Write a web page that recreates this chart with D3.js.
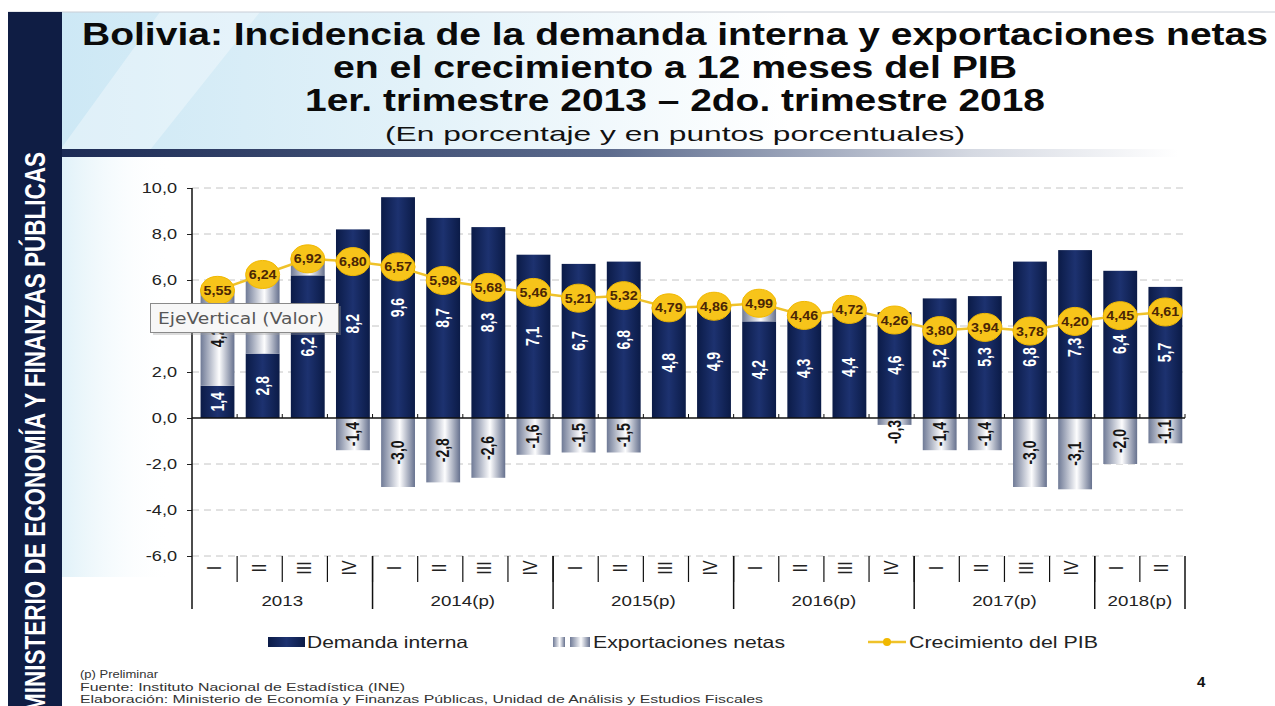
<!DOCTYPE html>
<html>
<head>
<meta charset="utf-8">
<script src="https://cdn.jsdelivr.net/npm/d3@7"></script>
<style>
  html, body { margin: 0; padding: 0; background: #ffffff; }
  svg { display: block; }
</style>
</head>
<body>
<svg id="chart" width="1275" height="706"></svg>
<script>
// ---------- DATA ----------
const quarters = ["I","II","III","IV","I","II","III","IV","I","II","III","IV","I","II","III","IV","I","II","III","IV","I","II"];
const years = ["2013","2014(p)","2015(p)","2016(p)","2017(p)","2018(p)"];
const yearQuarterCounts = [4,4,4,4,4,2];
const demandaInterna = [1.4,2.8,6.2,8.2,9.6,8.7,8.3,7.1,6.7,6.8,4.8,4.9,4.2,4.3,4.4,4.6,5.2,5.3,6.8,7.3,6.4,5.7];
const exportacionesNetas = [4.2,3.4,0.7,-1.4,-3.0,-2.8,-2.6,-1.6,-1.5,-1.5,0.0,0.0,0.8,0.2,0.3,-0.3,-1.4,-1.4,-3.0,-3.1,-2.0,-1.1];
const crecimientoPIB = [5.55,6.24,6.92,6.80,6.57,5.98,5.68,5.46,5.21,5.32,4.79,4.86,4.99,4.46,4.72,4.26,3.80,3.94,3.78,4.20,4.45,4.61];
const yTicks = [-6,-4,-2,0,2,4,6,8,10];
const titleLines = [
  "Bolivia: Incidencia de la demanda interna y exportaciones netas",
  "en el crecimiento a 12 meses del PIB",
  "1er. trimestre 2013 \u2013 2do. trimestre 2018"
];
const subtitle = "(En porcentaje y en puntos porcentuales)";
const legendLabels = ["Demanda interna","Exportaciones netas","Crecimiento del PIB"];
const footnotes = [
  "(p) Preliminar",
  "Fuente: Instituto Nacional de Estad\u00edstica (INE)",
  "Elaboraci\u00f3n: Ministerio de Econom\u00eda y Finanzas P\u00fablicas, Unidad de An\u00e1lisis y Estudios Fiscales"
];
const sideText = "MINISTERIO DE ECONOM\u00cdA Y FINANZAS P\u00daBLICAS";
const pageNumber = "4";

// ---------- SETUP ----------
const svg = d3.select("#chart");
const W = 1275, H = 706;
const SX = 1.25; // horizontal stretch of the reference picture
const loc = d3.formatLocale({decimal: ",", thousands: ".", grouping: [3], currency: ["", ""], minus: "-"});
const f1 = loc.format(".1f"), f2 = loc.format(".2f");
const tf = "'Liberation Sans', Arial, Helvetica, sans-serif";

const defs = svg.append("defs");
function grad(id, stops, x2 = "100%", y2 = "0%") {
  const g = defs.append("linearGradient").attr("id", id).attr("x1", "0%").attr("y1", "0%").attr("x2", x2).attr("y2", y2);
  stops.forEach(s => g.append("stop").attr("offset", s[0]).attr("stop-color", s[1]).attr("stop-opacity", s[2] === undefined ? 1 : s[2]));
}
grad("hdrGrad", [["0%", "#cde8f5"], ["30%", "#e3f2f9"], ["60%", "#ffffff"]]);
grad("ruleGrad", [["0%", "#1c2b55"], ["45%", "#5d6c8e"], ["75%", "#d5d9e2"], ["92%", "#ffffff"]]);
grad("sideGrad", [["0%", "#d9eef7"], ["100%", "#ffffff", 0]]);
grad("demGrad", [["0%", "#0b1b47"], ["50%", "#1d3270"], ["100%", "#0b1b47"]]);
grad("expGrad", [["0%", "#6f7a96"], ["55%", "#fdfdfe"], ["100%", "#66718e"]]);

// ---------- BACKGROUND / FRAME ----------
svg.append("rect").attr("x", 62).attr("y", 12).attr("width", W - 62).attr("height", 138).attr("fill", "url(#hdrGrad)");
svg.append("polygon").attr("points", "160,12 260,12 150,150 60,150").attr("fill", "#ffffff").attr("opacity", 0.35);
svg.append("rect").attr("x", 62).attr("y", 157).attr("width", 110).attr("height", 420).attr("fill", "url(#sideGrad)").attr("opacity", 0.8);
svg.append("line").attr("x1", 8).attr("x2", W).attr("y1", 12).attr("y2", 12).attr("stroke", "#c9ced6").attr("stroke-width", 1);
svg.append("rect").attr("x", 62).attr("y", 149).attr("width", W - 62).attr("height", 8).attr("fill", "url(#ruleGrad)");
svg.append("rect").attr("x", 8).attr("y", 12).attr("width", 54).attr("height", H - 12).attr("fill", "#0f1d44");

svg.append("text")
  .attr("transform", "translate(45,152) rotate(-90)")
  .attr("text-anchor", "end")
  .attr("font-family", "'Liberation Sans Narrow', 'Arial Narrow', 'Liberation Sans', Arial, sans-serif")
  .attr("font-weight", "bold").attr("font-size", 30).attr("fill", "#ffffff")
  .attr("textLength", 560).attr("lengthAdjust", "spacingAndGlyphs")
  .text(sideText);

// ---------- TITLES ----------
const titleLens = [1186, 684, 740];
titleLines.forEach((t, i) => {
  svg.append("text").attr("x", 675).attr("y", 45 + i * 33).attr("text-anchor", "middle")
    .attr("font-family", tf).attr("font-weight", "bold").attr("font-size", 31).attr("fill", "#0a0a0a")
    .attr("textLength", titleLens[i]).attr("lengthAdjust", "spacingAndGlyphs").text(t);
});
svg.append("text").attr("x", 675).attr("y", 141).attr("text-anchor", "middle")
  .attr("font-family", tf).attr("font-size", 21).attr("fill", "#111")
  .attr("textLength", 580).attr("lengthAdjust", "spacingAndGlyphs").text(subtitle);

// ---------- SCALES ----------
const idx = d3.range(demandaInterna.length);
const xCell = d3.scaleBand().domain(idx).range([192, 1185]).padding(0);
const bw = xCell.bandwidth() * 0.75;
const bx = i => xCell(i) + xCell.bandwidth() * 0.19;
const y = d3.scaleLinear().domain([-6, 10]).range([556, 188]);

// gridlines
svg.append("g").selectAll("line").data(yTicks.filter(t => t !== 0)).join("line")
  .attr("x1", 192).attr("x2", 1185).attr("y1", d => y(d)).attr("y2", d => y(d))
  .attr("stroke", "#c4c4c4").attr("stroke-width", 1).attr("stroke-dasharray", "7,5");

// y axis
const yAxis = d3.axisLeft(y).tickValues(yTicks).tickSize(5).tickPadding(10).tickFormat(d => f1(d));
const yg = svg.append("g").attr("transform", "translate(192,0)").call(yAxis);
yg.select(".domain").remove();
yg.selectAll("text").attr("font-family", tf).attr("font-size", 14.5).attr("fill", "#222")
  .attr("x", null).attr("transform", `translate(-15,0) scale(${SX},1)`);
yg.selectAll(".tick line").attr("stroke", "#222");
svg.append("line").attr("x1", 192).attr("x2", 192).attr("y1", 188).attr("y2", 609).attr("stroke", "#111").attr("stroke-width", 1.5);

// ---------- BARS ----------
const barsG = svg.append("g");
barsG.selectAll("rect.dem").data(idx).join("rect").attr("class", "dem")
  .attr("x", i => bx(i)).attr("width", bw)
  .attr("y", i => y(demandaInterna[i])).attr("height", i => y(0) - y(demandaInterna[i]))
  .attr("fill", "url(#demGrad)");
barsG.selectAll("rect.exp").data(idx.filter(i => exportacionesNetas[i] !== 0)).join("rect").attr("class", "exp")
  .attr("x", i => bx(i)).attr("width", bw)
  .attr("y", i => exportacionesNetas[i] > 0 ? y(demandaInterna[i] + exportacionesNetas[i]) : y(0))
  .attr("height", i => Math.abs(y(exportacionesNetas[i]) - y(0)))
  .attr("fill", "url(#expGrad)");

// zero axis
svg.append("line").attr("x1", 192).attr("x2", 1185).attr("y1", y(0)).attr("y2", y(0)).attr("stroke", "#111").attr("stroke-width", 1.5);
svg.append("g").selectAll("line").data(d3.range(1, idx.length + 1)).join("line")
  .attr("x1", i => i < idx.length ? xCell(i) : 1185).attr("x2", i => i < idx.length ? xCell(i) : 1185)
  .attr("y1", y(0)).attr("y2", y(0) - 4).attr("stroke", "#111").attr("stroke-width", 1);

// bar labels (rotated, stretched horizontally like the reference)
const lblG = svg.append("g").attr("font-family", tf).attr("font-weight", "bold").attr("font-size", 14);
idx.forEach(i => {
  const d = demandaInterna[i];
  const cx = bx(i) + bw / 2;
  let cy = (y(0) + y(d)) / 2;
  const circleBottom = y(crecimientoPIB[i]) + 14;
  if (cy - 10 < circleBottom) cy = circleBottom + 12;
  lblG.append("text").attr("transform", `translate(${cx + 6},${cy}) scale(${SX},1) rotate(-90)`)
    .attr("text-anchor", "middle").attr("fill", "#ffffff").text(f1(d));
  const e = exportacionesNetas[i];
  if (e < 0 || e >= 1) {
    let ecy;
    if (e < 0) ecy = Math.max((y(0) + y(e)) / 2, y(0) + 14);
    else ecy = (y(d) + y(d + e)) / 2;
    lblG.append("text").attr("transform", `translate(${cx + 6},${ecy}) scale(${SX},1) rotate(-90)`)
      .attr("text-anchor", "middle").attr("fill", "#151515").text(f1(e));
  }
});

// ---------- GDP LINE ----------
const line = d3.line().x(i => bx(i) + bw / 2).y(i => y(crecimientoPIB[i]));
svg.append("path").datum(idx).attr("d", line).attr("fill", "none").attr("stroke", "#efc22a").attr("stroke-width", 2.5);
const ptG = svg.append("g");
ptG.selectAll("ellipse").data(idx).join("ellipse")
  .attr("cx", i => bx(i) + bw / 2).attr("cy", i => y(crecimientoPIB[i]))
  .attr("rx", 17).attr("ry", 14).attr("fill", "#f7c41a").attr("stroke", "#f1b800").attr("stroke-width", 1);
ptG.selectAll("text").data(idx).join("text")
  .attr("transform", i => `translate(${bx(i) + bw / 2},${y(crecimientoPIB[i]) + 4.5}) scale(1.1,1)`)
  .attr("text-anchor", "middle").attr("font-family", tf).attr("font-weight", "bold").attr("font-size", 13)
  .attr("fill", "#4a2605").text(i => f2(crecimientoPIB[i]));

// ---------- CATEGORY AXIS ----------
const catG = svg.append("g");
catG.selectAll("line.q").data(d3.range(1, idx.length)).join("line").attr("class", "q")
  .attr("x1", i => xCell(i)).attr("x2", i => xCell(i)).attr("y1", 556).attr("y2", 582)
  .attr("stroke", "#111").attr("stroke-width", 1.2);
const yearBounds = [0];
yearQuarterCounts.forEach(c => yearBounds.push(yearBounds[yearBounds.length - 1] + c));
catG.selectAll("line.yr").data(yearBounds.slice(1)).join("line").attr("class", "yr")
  .attr("x1", b => b < idx.length ? xCell(b) : 1185).attr("x2", b => b < idx.length ? xCell(b) : 1185)
  .attr("y1", 556).attr("y2", 609).attr("stroke", "#111").attr("stroke-width", 1.5);
catG.selectAll("text.q").data(idx).join("text").attr("class", "q")
  .attr("transform", i => `translate(${xCell(i) + xCell.bandwidth() / 2 + 6},568) scale(${SX},1) rotate(-90)`)
  .attr("text-anchor", "middle").attr("font-family", tf).attr("font-size", 16).attr("fill", "#222")
  .text(i => quarters[i]);
catG.selectAll("text.yr").data(years).join("text").attr("class", "yr")
  .attr("transform", (d, k) => {
    const a = xCell(yearBounds[k]);
    const b = yearBounds[k + 1] < idx.length ? xCell(yearBounds[k + 1]) : 1185;
    return `translate(${(a + b) / 2},606) scale(${SX},1)`;
  })
  .attr("text-anchor", "middle").attr("font-family", tf).attr("font-size", 15).attr("fill", "#222")
  .text(d => d);

// ---------- LEGEND ----------
const lg = svg.append("g").attr("font-family", tf).attr("font-size", 16.5).attr("fill", "#222");
lg.append("rect").attr("x", 268).attr("y", 637).attr("width", 37).attr("height", 10).attr("fill", "url(#demGrad)");
lg.append("text").attr("x", 307).attr("y", 648).attr("textLength", 161).attr("lengthAdjust", "spacingAndGlyphs").text(legendLabels[0]);
lg.append("rect").attr("x", 553).attr("y", 637).attr("width", 12).attr("height", 10).attr("fill", "url(#expGrad)");
lg.append("rect").attr("x", 570).attr("y", 637).attr("width", 20).attr("height", 10).attr("fill", "url(#expGrad)");
lg.append("text").attr("x", 593).attr("y", 648).attr("textLength", 192).attr("lengthAdjust", "spacingAndGlyphs").text(legendLabels[1]);
lg.append("line").attr("x1", 868).attr("x2", 906).attr("y1", 642).attr("y2", 642).attr("stroke", "#efc22a").attr("stroke-width", 2.5);
lg.append("circle").attr("cx", 887).attr("cy", 642).attr("r", 4).attr("fill", "#f1b800");
lg.append("text").attr("x", 909).attr("y", 648).attr("textLength", 189).attr("lengthAdjust", "spacingAndGlyphs").text(legendLabels[2]);

// ---------- FOOTNOTES ----------
const fnLens = [78, 325, 683];
footnotes.forEach((t, i) => {
  svg.append("text").attr("x", 80).attr("y", 678 + i * 12.5).attr("font-family", tf).attr("font-size", 11)
    .attr("fill", "#333").attr("textLength", fnLens[i]).attr("lengthAdjust", "spacingAndGlyphs").text(t);
});
svg.append("text").attr("x", 1197).attr("y", 687).attr("font-family", tf).attr("font-weight", "bold")
  .attr("font-size", 15).attr("fill", "#111").text(pageNumber);

// ---------- TOOLTIP ----------
const tip = svg.append("g");
tip.append("rect").attr("x", 153).attr("y", 306).attr("width", 188).attr("height", 29).attr("fill", "#9a9a9a").attr("opacity", 0.35);
tip.append("rect").attr("x", 150.5).attr("y", 303.5).attr("width", 188).attr("height", 29).attr("fill", "#f7f7f7").attr("stroke", "#8a8a8a").attr("stroke-width", 1);
tip.append("text").attr("x", 158).attr("y", 324).attr("font-family", "'DejaVu Sans', 'Open Sans', sans-serif").attr("font-size", 16)
  .attr("fill", "#575757").attr("textLength", 166).attr("lengthAdjust", "spacingAndGlyphs").text("EjeVertical (Valor)");
</script>
</body>
</html>
